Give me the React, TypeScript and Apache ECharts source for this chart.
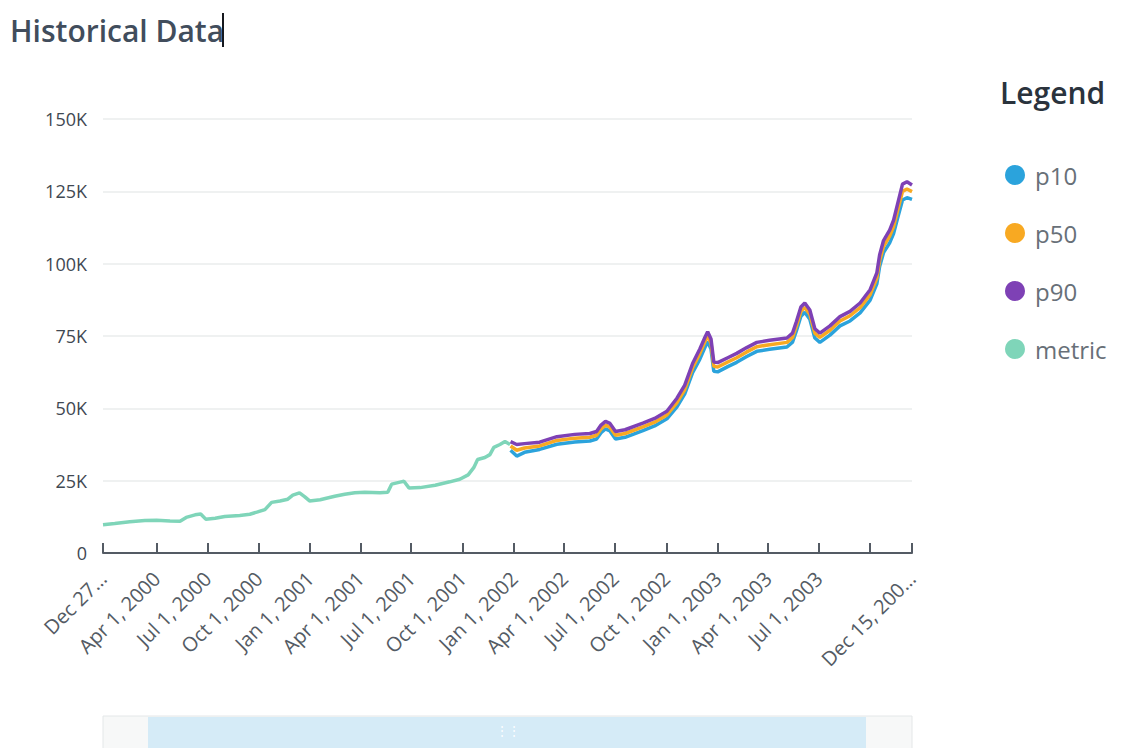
import React, { useEffect, useRef } from "react";
import * as echarts from "echarts";

const metricDates = [
  "1999-12-27", "2000-01-17", "2000-02-13", "2000-03-11", "2000-04-01", "2000-04-25",
  "2000-05-13", "2000-05-24", "2000-06-09", "2000-06-19", "2000-06-28", "2000-07-15",
  "2000-08-01", "2000-08-28", "2000-09-15", "2000-09-29", "2000-10-12", "2000-10-24",
  "2000-11-08", "2000-11-22", "2000-12-01", "2000-12-13", "2000-12-22", "2000-12-31",
  "2001-01-19", "2001-02-14", "2001-03-04", "2001-03-22", "2001-04-09", "2001-05-06",
  "2001-05-20", "2001-05-27", "2001-06-11", "2001-06-18", "2001-06-27", "2001-07-17",
  "2001-08-13", "2001-09-08", "2001-09-26", "2001-10-11", "2001-10-21", "2001-10-28",
  "2001-11-10", "2001-11-19", "2001-11-26", "2001-12-07", "2001-12-16", "2001-12-25",
];
const metricValues = [
  9800, 10200, 10800, 11200, 11300, 11100,
  11000, 12300, 13200, 13500, 11700, 12000,
  12600, 13000, 13400, 14200, 15000, 17500,
  18000, 18600, 20000, 20800, 19500, 18000,
  18400, 19600, 20300, 20800, 21000, 20800,
  21000, 23800, 24500, 24800, 22500, 22600,
  23400, 24600, 25500, 27000, 29500, 32300,
  33000, 34000, 36500, 37500, 38500, 37500,
];

const forecastDates = [
  "2001-12-26", "2002-01-06", "2002-01-20", "2002-02-16", "2002-03-19", "2002-04-20",
  "2002-05-17", "2002-05-29", "2002-06-06", "2002-06-14", "2002-06-22", "2002-07-02",
  "2002-07-19", "2002-08-20", "2002-09-10", "2002-10-02", "2002-10-20", "2002-11-03",
  "2002-11-17", "2002-11-30", "2002-12-09", "2002-12-14", "2002-12-20", "2002-12-25",
  "2003-01-01", "2003-01-19", "2003-02-04", "2003-02-22", "2003-03-12", "2003-04-04",
  "2003-05-05", "2003-05-15", "2003-05-22", "2003-05-30", "2003-06-06", "2003-06-15",
  "2003-06-24", "2003-07-03", "2003-07-21", "2003-08-08", "2003-08-26", "2003-09-13",
  "2003-10-01", "2003-10-13", "2003-10-18", "2003-10-25", "2003-11-05", "2003-11-12",
  "2003-11-19", "2003-11-28", "2003-12-06", "2003-12-15",
];
const p90Values = [
  38500, 37500, 37800, 38300, 40200, 41000,
  41300, 42000, 44200, 45500, 44800, 42000,
  42600, 44900, 46500, 49000, 53500, 58000,
  65500, 70500, 74500, 76500, 74000, 66000,
  65800, 67500, 69000, 71000, 72800, 73500,
  74300, 76000, 80000, 85000, 86400, 84000,
  77500, 76000, 78500, 81700, 83500, 86400,
  91000, 96800, 103000, 108000, 111600, 115000,
  120500, 127500, 128300, 127200,
];
const p50Values = [
  37000, 35500, 36300, 37000, 38900, 39700,
  40000, 40700, 42900, 44200, 43500, 40700,
  41300, 43600, 45200, 47700, 52000, 56500,
  64000, 69000, 73000, 75000, 72500, 64500,
  64300, 66000, 67500, 69500, 71300, 72000,
  72800, 74500, 78500, 83500, 84900, 82500,
  76000, 74500, 77000, 80200, 82000, 84800,
  89300, 95000, 101000, 106000, 109500, 112800,
  118200, 125000, 125800, 124900,
];
const p10Values = [
  35500, 33500, 34800, 35800, 37600, 38400,
  38700, 39400, 41600, 42900, 42200, 39400,
  40000, 42300, 43900, 46400, 50500, 55000,
  62300, 67000, 71000, 73000, 70500, 62800,
  62600, 64400, 65900, 67900, 69700, 70400,
  71200, 72900, 76800, 81800, 83200, 80800,
  74300, 72800, 75300, 78500, 80200, 83000,
  87400, 93000, 99000, 103800, 107200, 110400,
  115600, 122000, 122800, 122200,
];

const xTickDates = [
  "1999-12-27", "2000-04-01", "2000-07-01", "2000-10-01", "2001-01-01", "2001-04-01",
  "2001-07-01", "2001-10-01", "2002-01-01", "2002-04-01", "2002-07-01", "2002-10-01",
  "2003-01-01", "2003-04-01", "2003-07-01", "2003-10-01", "2003-12-15",
];
const xLabelDates = [
  "1999-12-27", "2000-04-01", "2000-07-01", "2000-10-01", "2001-01-01", "2001-04-01",
  "2001-07-01", "2001-10-01", "2002-01-01", "2002-04-01", "2002-07-01", "2002-10-01",
  "2003-01-01", "2003-04-01", "2003-07-01", "2003-12-15",
];
const yTickValues = [0, 25000, 50000, 75000, 100000, 125000, 150000];

const seriesNames = ["p10", "p50", "p90", "metric"];
const seriesColors = ["#2ba3dc", "#f8a922", "#7e41b5", "#7fd5b9"];

const MONTHS = ["Jan", "Feb", "Mar", "Apr", "May", "Jun", "Jul", "Aug", "Sep", "Oct", "Nov", "Dec"];
const ts = (d: string) => Date.parse(d + "T00:00:00Z");
const fmtDate = (v: number) => {
  const d = new Date(v);
  return `${MONTHS[d.getUTCMonth()]} ${d.getUTCDate()}, ${d.getUTCFullYear()}`;
};

const FONT = "'Open Sans', 'Noto Sans', sans-serif";

export default function App() {
  const ref = useRef<HTMLDivElement>(null);
  useEffect(() => {
    if (!ref.current) return;
    const chart = echarts.init(ref.current, undefined, { renderer: "svg" });
    const xMin = ts(xTickDates[0]);
    const xMax = ts(xTickDates[xTickDates.length - 1]);
    const pair = (dates: string[], vals: number[]) => dates.map((d, i) => [ts(d), vals[i]]);
    const forecastSets = [p10Values, p50Values, p90Values];

    const series: any[] = [
      {
        name: "metric",
        type: "line",
        data: pair(metricDates, metricValues),
        showSymbol: false,
        lineStyle: { width: 3.5, color: seriesColors[3] },
        itemStyle: { color: seriesColors[3] },
        z: 2,
      },
      ...forecastSets.map((vals, i) => ({
        name: seriesNames[i],
        type: "line",
        data: pair(forecastDates, vals),
        showSymbol: false,
        lineStyle: { width: 3.5, color: seriesColors[i] },
        itemStyle: { color: seriesColors[i] },
        z: 3 + i,
      })),
    ];

    chart.setOption({
      animation: false,
      backgroundColor: "#ffffff",
      textStyle: { fontFamily: FONT },
      grid: { left: 103, right: 212, top: 119, bottom: 195 },
      xAxis: {
        type: "value",
        min: xMin,
        max: xMax,
        axisLine: { show: true, lineStyle: { color: "#545b64", width: 2 } },
        axisTick: {
          show: true,
          inside: true,
          length: 10,
          lineStyle: { color: "#545b64", width: 2 },
          customValues: xTickDates.map(ts),
        },
        axisLabel: {
          rotate: 45,
          fontSize: 20,
          color: "#545b64",
          fontFamily: FONT,
          margin: 22,
          customValues: xLabelDates.map(ts),
          formatter: (v: number) => {
            if (v === xMin) return "Dec 27…";
            if (v === xMax) return "Dec 15, 200…";
            return fmtDate(v);
          },
        },
        splitLine: { show: false },
      },
      yAxis: {
        type: "value",
        min: yTickValues[0],
        max: yTickValues[yTickValues.length - 1],
        interval: 25000,
        axisLine: { show: false },
        axisTick: { show: false },
        axisLabel: {
          fontSize: 18,
          color: "#3f4852",
          fontFamily: FONT,
          margin: 16,
          formatter: (v: number) => (v === 0 ? "0" : `${v / 1000}K`),
        },
        splitLine: { lineStyle: { color: "#eaeded", width: 1.5 } },
      },
      legend: {
        orient: "vertical",
        left: 1000,
        top: 158,
        itemGap: 34,
        itemWidth: 20,
        itemHeight: 20,
        icon: "circle",
        data: seriesNames,
        textStyle: { fontSize: 24, color: "#687078", fontFamily: FONT, padding: [0, 0, 0, 5] },
      },
      graphic: [
        {
          type: "text",
          x: 10,
          y: 30,
          style: {
            text: "Historical Data",
            fontSize: 30,
            fontWeight: 600,
            fill: "#414d5c",
            fontFamily: FONT,
            verticalAlign: "middle",
          },
        },
        {
          type: "rect",
          shape: { x: 222, y: 13, width: 2, height: 34 },
          style: { fill: "#16191f" },
        },
        {
          type: "text",
          x: 1000,
          y: 92,
          style: {
            text: "Legend",
            fontSize: 30,
            fontWeight: 600,
            fill: "#2a333d",
            fontFamily: FONT,
            verticalAlign: "middle",
          },
        },
        {
          type: "rect",
          shape: { x: 103, y: 716, width: 809, height: 40 },
          style: { fill: "#f7f8f8", stroke: "#e4e7e8", lineWidth: 1 },
        },
        {
          type: "rect",
          shape: { x: 148, y: 717, width: 718, height: 40 },
          style: { fill: "#d5ebf7" },
        },
        {
          type: "text",
          x: 508,
          y: 731,
          style: { text: "⋮⋮", fontSize: 12, fill: "#ffffff", align: "center", verticalAlign: "middle" },
        },
      ],
      series,
    });
    return () => chart.dispose();
  }, []);
  return (
    <div
      ref={ref}
      style={{ position: "fixed", left: 0, top: 0, width: 1124, height: 748, background: "#fff" }}
    />
  );
}
